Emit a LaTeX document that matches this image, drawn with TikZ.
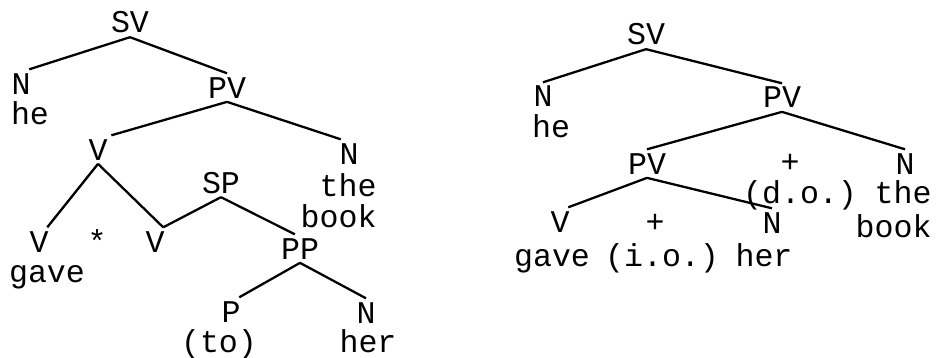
\documentclass[tikz,border=0pt]{standalone}
\usepackage{fontspec}
\newfontfamily\treefont{Liberation Mono}

\begin{document}
\begin{tikzpicture}[x=0.02cm,y=-0.02cm,font=\treefont\fontsize{18}{20}\selectfont,
cat/.style={inner sep=2pt,anchor=base},
word/.style={inner sep=0pt,anchor=base},
branch/.style={line width=1.3pt,draw=black}]
\useasboundingbox (0,0) rectangle (936,358);
% left tree: gave * V with the prepositional phrase
\node[cat] (svA) at (130,33) {SV};
\node[cat] (nA) at (21,94) {N};
\node[word] (heA) at (30,125) {he};
\node[cat] (pvA) at (227,98) {PV};
\node[cat] (vA) at (98,160) {V};
\node[cat] (nB) at (349,164) {N};
\node[word,anchor=base east] (theA) at (377,196) {the};
\node[word,anchor=base east] (bookA) at (377,227) {book};
\node[cat] (spA) at (221,193) {SP};
\node[cat] (vB) at (39,252) {V};
\node[word] (gaveA) at (47,282) {gave};
\node[cat] (starA) at (97,252) {*};
\node[cat] (vC) at (155,252) {V};
\node[cat] (ppA) at (300,259) {PP};
\node[cat] (pA) at (231,322) {P};
\node[word] (toA) at (219,352) {(to)};
\node[cat] (nC) at (366,323) {N};
\node[word] (herA) at (368,352) {her};
\draw[branch] (svA.south)--(nA.60);
\draw[branch] (svA.south)--(pvA.north);
\draw[branch] (pvA.south)--(vA.north east);
\draw[branch] (pvA.south)--(nB.120);
\draw[branch] (vA.south)--(vB.60);
\draw[branch] (vA.south)--(vC.60);
\draw[branch] (spA.south)--(vC.60);
\draw[branch] (spA.south)--(ppA.110);
\draw[branch] (ppA.south)--(pA.60);
\draw[branch] (ppA.south)--(nC.north);
% right tree: double object
\node[cat] (svB) at (646,45) {SV};
\node[cat] (nD) at (543,107) {N};
\node[word] (heB) at (551,137) {he};
\node[cat] (pvB) at (782,108) {PV};
\node[cat] (pvC) at (647,174) {PV};
\node[cat] (plusA) at (790,173) {+};
\node[cat] (nE) at (905,174) {N};
\node[word] (doB) at (800,203) {(d.o.)};
\node[word,anchor=base east] (theB) at (932,203) {the};
\node[word,anchor=base east] (bookB) at (932,237) {book};
\node[cat] (vD) at (560,232) {V};
\node[cat] (plusB) at (655,232) {+};
\node[cat] (nF) at (772,233) {N};
\node[word] (gaveB) at (552,266) {gave};
\node[word] (ioB) at (662,266) {(i.o.)};
\node[word] (herB) at (764,266) {her};
\draw[branch] (svB.south)--(nD.north);
\draw[branch] (svB.south)--(pvB.north);
\draw[branch] (pvB.south)--(pvC.north);
\draw[branch] (pvB.south)--(nE.north);
\draw[branch] (pvC.south)--(vD.60);
\draw[branch] (pvC.south)--(nF.north);
\end{tikzpicture}
\end{document}
